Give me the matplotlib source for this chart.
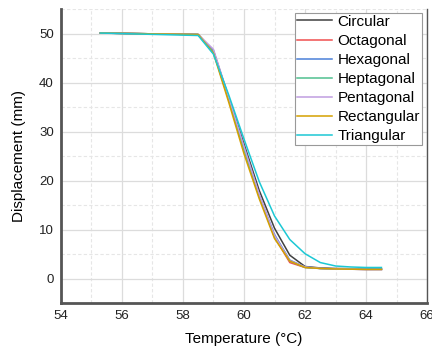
import matplotlib
matplotlib.use("Agg")
import matplotlib.pyplot as plt
from matplotlib.ticker import MultipleLocator

# temperature steps (°C) and displacement (mm) for each cross-section shape
temperature = [55.3, 58.5, 59.0, 59.5, 60.0, 60.5, 61.0, 61.5, 62.0, 62.5, 63.0, 63.5, 64.0, 64.5]

circular    = [50.1, 49.8, 46.5, 37.0, 27.5, 18.0, 10.3, 4.8, 2.5, 2.2, 2.1, 2.05, 2.0, 2.0]
octagonal   = [50.1, 49.8, 46.3, 36.5, 26.5, 16.8, 8.5, 3.3, 2.3, 2.1, 2.0, 1.95, 1.9, 1.9]
hexagonal   = [50.1, 49.8, 46.4, 36.7, 26.5, 17.0, 9.0, 3.8, 2.4, 2.1, 2.0, 1.95, 1.9, 1.9]
heptagonal  = [50.1, 49.8, 46.2, 36.6, 26.4, 16.7, 8.6, 3.6, 2.3, 2.1, 2.0, 2.0, 1.95, 1.95]
pentagonal  = [50.1, 49.8, 46.8, 37.0, 27.0, 17.2, 8.8, 3.7, 2.4, 2.1, 2.0, 1.95, 1.9, 1.9]
rectangular = [50.1, 49.8, 46.0, 36.0, 25.5, 16.3, 8.2, 3.6, 2.3, 2.1, 2.0, 1.95, 1.9, 1.9]
triangular  = [50.1, 49.6, 45.8, 37.5, 28.5, 19.8, 12.8, 8.0, 5.1, 3.3, 2.6, 2.4, 2.3, 2.3]

series = [
    ("Circular", circular, "#404040"),
    ("Octagonal", octagonal, "#f05050"),
    ("Hexagonal", hexagonal, "#4a80d8"),
    ("Heptagonal", heptagonal, "#50c090"),
    ("Pentagonal", pentagonal, "#c09ee0"),
    ("Rectangular", rectangular, "#d4a000"),
    ("Triangular", triangular, "#1cc8d4"),
]

plt.rcParams["font.family"] = ["Liberation Sans", "DejaVu Sans"]

fig = plt.figure(figsize=(4.32, 3.47), dpi=100)
ax = fig.add_axes([0.1405, 0.126, 0.8485, 0.848])

for name, values, color in series:
    ax.plot(temperature, values, color=color, linewidth=1.1, label=name)

ax.set_xlim(54, 66)
ax.set_ylim(-5, 55)
ax.xaxis.set_major_locator(MultipleLocator(2))
ax.xaxis.set_minor_locator(MultipleLocator(1))
ax.yaxis.set_major_locator(MultipleLocator(10))
ax.yaxis.set_minor_locator(MultipleLocator(5))
ax.grid(which="major", color="#dcdcdc", linewidth=0.9)
ax.grid(which="minor", color="#e6e6e6", linewidth=0.8, linestyle=(0, (3, 2)))
ax.set_axisbelow(True)

ax.tick_params(which="both", length=0, labelsize=9.5, colors="#222222", pad=5)
ax.spines["top"].set_visible(False)
ax.spines["left"].set_linewidth(2)
ax.spines["left"].set_color("#555555")
ax.spines["bottom"].set_linewidth(2)
ax.spines["bottom"].set_color("#555555")
ax.spines["right"].set_linewidth(1)
ax.spines["right"].set_color("#555555")

ax.set_xlabel("Temperature (°C)", fontsize=11, labelpad=7)
ax.set_ylabel("Displacement (mm)", fontsize=11, labelpad=9)

leg = ax.legend(loc="upper right", bbox_to_anchor=(0.986, 0.988), fontsize=11,
                frameon=True, fancybox=False, framealpha=1, edgecolor="#999999",
                borderpad=0.15, labelspacing=0.33, handlelength=2.3,
                handletextpad=0.35, borderaxespad=0)
leg.get_frame().set_linewidth(0.8)

fig.savefig("out.png", dpi=100)
